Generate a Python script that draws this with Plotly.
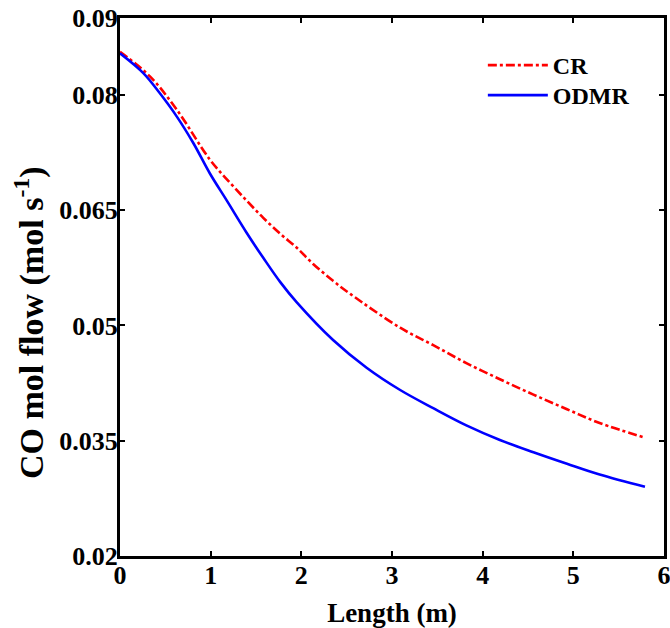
import plotly.graph_objects as go

# Data
cr_x = [0, 0.33, 0.625, 0.99, 1.21, 1.40, 1.58, 1.77, 1.95, 2.13, 2.35, 2.54, 3.09, 3.46, 3.82, 4.19, 4.56, 4.93, 5.29, 5.79]
cr_y = [0.0856, 0.0824, 0.0781, 0.0716, 0.0686, 0.0662, 0.0640, 0.0619, 0.0601, 0.0580, 0.0558, 0.0541, 0.0497, 0.0474, 0.0451, 0.0430, 0.0410, 0.0391, 0.0373, 0.0354]

odmr_x = [0, 0.26, 0.44, 0.625, 0.81, 0.99, 1.18, 1.40, 1.58, 1.77, 1.95, 2.35, 2.72, 3.09, 3.46, 3.82, 4.19, 4.56, 4.93, 5.29, 5.79]
odmr_y = [0.0854, 0.0828, 0.0802, 0.0772, 0.0737, 0.0698, 0.0662, 0.0620, 0.0588, 0.0556, 0.0530, 0.0481, 0.0445, 0.0416, 0.0392, 0.0370, 0.0351, 0.0335, 0.0320, 0.0306, 0.0290]

x_ticks = [0, 1, 2, 3, 4, 5, 6]
y_ticks = [0.02, 0.035, 0.05, 0.065, 0.08, 0.09]
y_tick_labels = ["0.02", "0.035", "0.05", "0.065", "0.08", "0.09"]

x_title = "Length (m)"
y_title = "CO mol flow (mol s<sup>-1</sup>)"

FONT = "Liberation Serif"
BOLD = dict(family=FONT, color="black", weight="bold")

fig = go.Figure()
fig.add_trace(go.Scatter(x=cr_x, y=cr_y, name="CR", mode="lines", legend="legend",
                         line=dict(color="#ff0000", width=2.6, dash="dashdot", shape="spline")))
fig.add_trace(go.Scatter(x=odmr_x, y=odmr_y, name="ODMR", mode="lines", legend="legend2",
                         line=dict(color="#0000ff", width=2.6, shape="spline")))

axis_common = dict(
    showline=True, linecolor="black", linewidth=3, mirror="ticks",
    ticks="inside", ticklen=5, tickwidth=2, tickcolor="black",
    showgrid=False, zeroline=False, ticklabeloverflow="allow", automargin=False,
)

fig.update_xaxes(range=[0, 6], tickvals=x_ticks, ticktext=[str(v) for v in x_ticks],
                 tickfont=dict(size=26, **BOLD), ticklabelstandoff=-6,
                 title=dict(text=x_title, font=dict(size=27, **BOLD), standoff=14),
                 **axis_common)
fig.update_yaxes(range=[0.02, 0.09], tickvals=y_ticks, ticktext=y_tick_labels,
                 tickfont=dict(size=26, **BOLD), ticklabelstandoff=-6,
                 **axis_common)

# y-axis title (placed slightly below the axis centre, as in the reference)
fig.add_annotation(text=y_title, textangle=-90, xref="paper", yref="paper",
                   x=0, y=0.433, xanchor="center", yanchor="middle", xshift=-91,
                   showarrow=False, font=dict(size=34, **BOLD))

leg_common = dict(x=0.667, xanchor="left", yanchor="top", bgcolor="rgba(0,0,0,0)",
                  font=dict(size=24, **BOLD), itemwidth=60)

fig.update_layout(
    width=670, height=628,
    margin=dict(l=120, r=6, t=18, b=72, autoexpand=False),
    paper_bgcolor="white", plot_bgcolor="white",
    font=dict(family=FONT, size=24, color="black", weight="bold"),
    legend=dict(y=0.9535, **leg_common),
    legend2=dict(y=0.8978, **leg_common),
    showlegend=True,
)

fig.write_html("out.html", config={"displayModeBar": False},
               post_script="document.body.style.margin='0px';document.body.style.overflow='hidden';")
